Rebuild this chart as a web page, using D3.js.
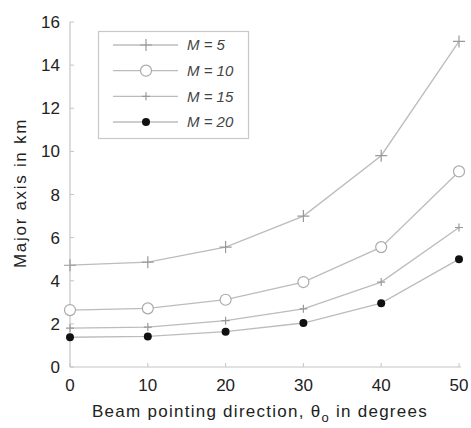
<!DOCTYPE html>
<html>
<head>
<meta charset="utf-8">
<script src="https://cdn.jsdelivr.net/npm/d3@7"></script>
<style>
  body { margin: 0; background: #fff; }
  text { font-family: "Liberation Sans", Arial, sans-serif; fill: #222; }
</style>
</head>
<body>
<svg></svg>
<script>
const width = 471;
const height = 428;

const angles = [0, 10, 20, 30, 40, 50];
const m5  = [4.72, 4.86, 5.56, 7.0, 9.8, 15.1];
const m10 = [2.64, 2.72, 3.12, 3.94, 5.56, 9.07];
const m15 = [1.8, 1.85, 2.15, 2.7, 3.94, 6.47];
const m20 = [1.38, 1.42, 1.64, 2.04, 2.96, 5.0];
const seriesNames = ['M = 5', 'M = 10', 'M = 15', 'M = 20'];
const xTicks = [0, 10, 20, 30, 40, 50];
const yTicks = [0, 2, 4, 6, 8, 10, 12, 14, 16];

const series = [
  {name: seriesNames[0], values: m5, marker: 'plus', size: 6},
  {name: seriesNames[1], values: m10, marker: 'circle'},
  {name: seriesNames[2], values: m15, marker: 'plus', size: 4},
  {name: seriesNames[3], values: m20, marker: 'dot'}
];

const svg = d3.select('svg').attr('width', width).attr('height', height);

const x = d3.scaleLinear().domain([0, 50]).range([70, 459]);
const y = d3.scaleLinear().domain([0, 16]).range([367, 22]);

// stretch a title to the width it has in the picture
function fitWidth(sel, target) {
  const node = sel.node();
  const len = node.getComputedTextLength();
  const n = node.textContent.length;
  sel.style('letter-spacing', ((target - len) / n) + 'px');
}

// axes (left and bottom only, light gray)
const axisColor = '#c4c4c4';
svg.append('line')
    .attr('x1', x(0)).attr('x2', x(0))
    .attr('y1', y(0)).attr('y2', y(16))
    .attr('stroke', axisColor).attr('stroke-width', 1.2);
svg.append('line')
    .attr('x1', x(0)).attr('x2', x(50) + 2)
    .attr('y1', y(0)).attr('y2', y(0))
    .attr('stroke', axisColor).attr('stroke-width', 1.2);

// tick marks inside the plot
svg.selectAll('.ytick').data(yTicks).enter().append('line')
    .attr('x1', x(0)).attr('x2', x(0) + 4)
    .attr('y1', d => y(d)).attr('y2', d => y(d))
    .attr('stroke', axisColor);
svg.selectAll('.xtick').data(xTicks).enter().append('line')
    .attr('x1', d => x(d)).attr('x2', d => x(d))
    .attr('y1', y(0)).attr('y2', y(0) - 4)
    .attr('stroke', axisColor);

svg.selectAll('.ylab').data(yTicks).enter().append('text')
    .attr('x', 60).attr('y', d => y(d))
    .attr('dy', '0.36em')
    .attr('text-anchor', 'end')
    .style('font-size', '17px')
    .text(d => d);
svg.selectAll('.xlab').data(xTicks).enter().append('text')
    .attr('x', d => x(d)).attr('y', 391)
    .attr('text-anchor', 'middle')
    .style('font-size', '17px')
    .text(d => d);

// axis titles
const xt = svg.append('text')
    .attr('x', 92).attr('y', 417)
    .style('font-size', '17px');
xt.append('tspan').text('Beam pointing direction, \u03b8');
xt.append('tspan').attr('dy', 5).style('font-size', '13px').text('o');
xt.append('tspan').attr('dy', -5).text(' in degrees');
fitWidth(xt, 336);

const yt = svg.append('text')
    .attr('transform', 'translate(26,268) rotate(-90)')
    .style('font-size', '17px')
    .text('Major axis in km');
fitWidth(yt, 150);

// lines
const lineColor = '#bcbcbc';
const line = d3.line()
    .x((d, i) => x(angles[i]))
    .y(d => y(d));

svg.selectAll('.series').data(series).enter().append('path')
    .attr('d', d => line(d.values))
    .attr('fill', 'none')
    .attr('stroke', lineColor)
    .attr('stroke-width', 1.3);

function drawMarker(g, s, cx, cy) {
  if (s.marker === 'plus') {
    const r = s.size;
    g.append('path')
        .attr('d', `M${cx - r},${cy}H${cx + r}M${cx},${cy - r}V${cy + r}`)
        .attr('stroke', '#999').attr('stroke-width', 1.2);
  } else if (s.marker === 'circle') {
    g.append('circle').attr('cx', cx).attr('cy', cy).attr('r', 5.5)
        .attr('fill', '#fff').attr('stroke', '#aaa').attr('stroke-width', 1.2);
  } else {
    g.append('circle').attr('cx', cx).attr('cy', cy).attr('r', 4)
        .attr('fill', '#111');
  }
}

const markers = svg.append('g');
series.forEach(s => {
  s.values.forEach((v, i) => drawMarker(markers, s, x(angles[i]), y(v)));
});

// legend
const legend = svg.append('g');
legend.append('rect')
    .attr('x', 98.5).attr('y', 31.5).attr('width', 150).attr('height', 107)
    .attr('fill', '#fff').attr('stroke', '#c8c8c8').attr('stroke-width', 1.2);
const legendY = d3.scalePoint().domain(seriesNames).range([45, 122]);
series.forEach(s => {
  const ly = legendY(s.name);
  legend.append('line')
      .attr('x1', 113).attr('x2', 178).attr('y1', ly).attr('y2', ly)
      .attr('stroke', lineColor).attr('stroke-width', 1.3);
  drawMarker(legend, s, 146, ly);
  legend.append('text')
      .attr('x', 187).attr('y', ly).attr('dy', '0.36em')
      .style('font-size', '15px').style('font-style', 'italic')
      .style('fill', '#444')
      .text(s.name);
});
</script>
</body>
</html>
